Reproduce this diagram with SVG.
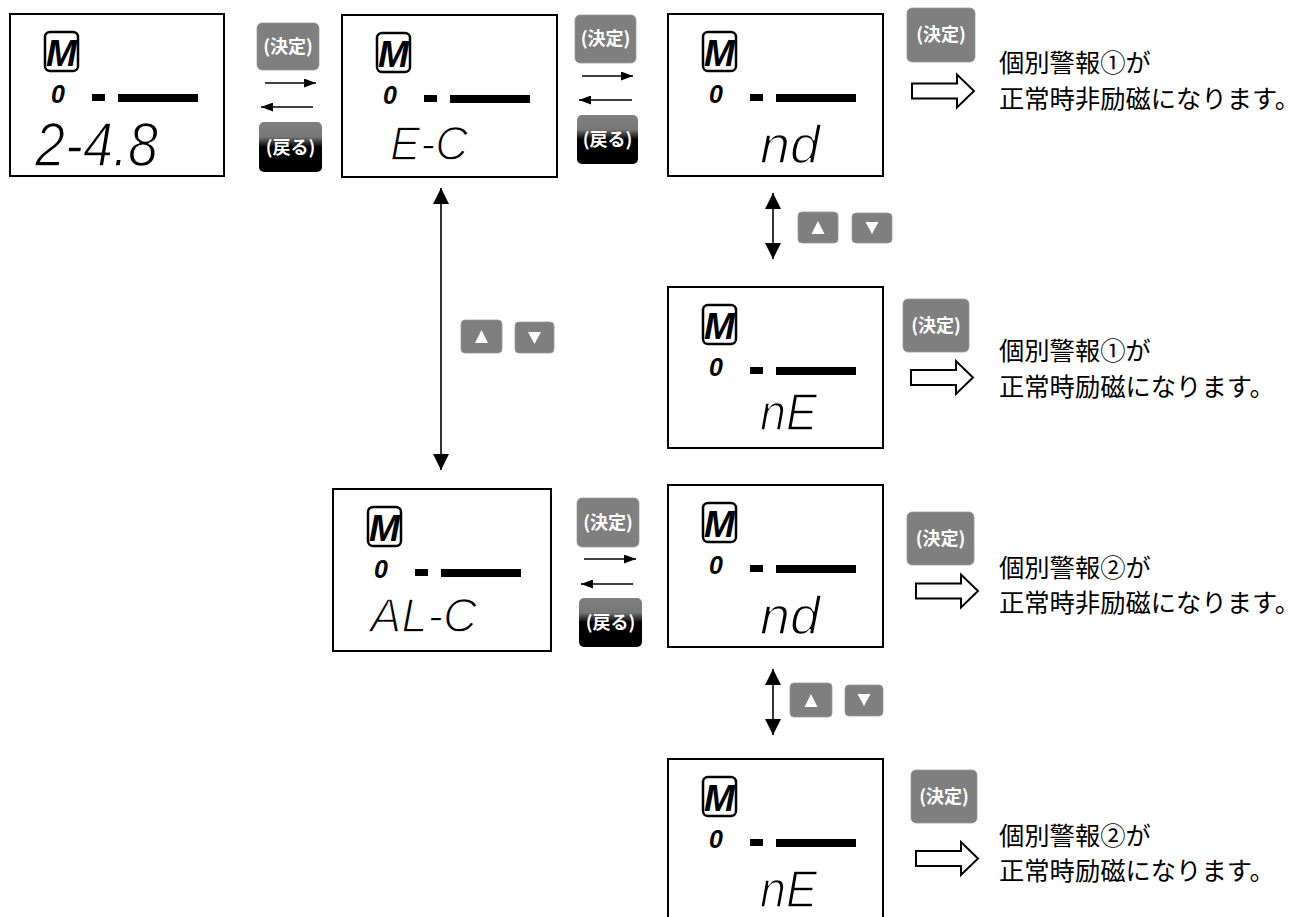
<svg xmlns="http://www.w3.org/2000/svg" width="1299" height="917" viewBox="0 0 1299 917">
<style>
.box{fill:#fff;stroke:#000;stroke-width:2}
.micon{fill:#fff;stroke:#000;stroke-width:2.5}
.mtxt{font-family:"Liberation Sans",Arial,sans-serif;font-weight:bold;font-style:italic;font-size:37px;fill:#000;text-anchor:middle}
.zero{font-family:"Liberation Sans",Arial,sans-serif;font-weight:bold;font-style:italic;font-size:25px;fill:#000}
.seg{font-family:"Liberation Sans",Arial,sans-serif;font-style:italic;fill:#000;stroke:#fff;stroke-width:1.5}
.btn{fill:#7f7f7f;stroke:#9a9a9a;stroke-width:0.8}
.btxt{font-family:"Noto Sans CJK JP","Noto Sans CJK SC",sans-serif;font-weight:bold;font-size:18px;fill:#fff;text-anchor:middle}
.jp{font-family:"Noto Sans CJK JP","Noto Sans CJK SC",sans-serif;font-size:25.3px;fill:#000}
.thin{stroke:#000;stroke-width:1.6;fill:none}
.hollow{fill:#fff;stroke:#000;stroke-width:2;stroke-linejoin:miter}
.tri{fill:#fff}
</style>
<defs>
<linearGradient id="back" x1="0" y1="0" x2="0" y2="1">
<stop offset="0" stop-color="#808080"/>
<stop offset="0.3" stop-color="#777"/>
<stop offset="0.5" stop-color="#000"/>
<stop offset="1" stop-color="#000"/>
</linearGradient>
<marker id="ah" viewBox="0 0 12 9" refX="12" refY="4.5" markerWidth="12" markerHeight="9" markerUnits="userSpaceOnUse" orient="auto-start-reverse">
<path d="M0,0 L12,4.5 L0,9 Z" fill="#000"/>
</marker>
<marker id="vh" viewBox="0 0 16 16" refX="16" refY="8" markerWidth="16" markerHeight="16" markerUnits="userSpaceOnUse" orient="auto-start-reverse">
<path d="M0,0 L16,8 L0,16 Z" fill="#000"/>
</marker>
</defs>

<!-- Displays -->
<g id="disp1" transform="translate(10,14)">
<rect class="box" x="0" y="0" width="214" height="162"/>
<rect class="micon" x="35" y="18" width="33" height="39" rx="5"/>
<text class="mtxt" x="51.5" y="52">M</text>
<text class="zero" x="41" y="89">0</text>
<rect x="82" y="80" width="13" height="7"/>
<rect x="108" y="80" width="80" height="8"/>
<text class="seg" x="25" y="152" font-size="63" textLength="123" lengthAdjust="spacingAndGlyphs">2-4.8</text>
</g>

<g id="disp2" transform="translate(342,15)">
<rect class="box" x="0" y="0" width="215" height="162"/>
<rect class="micon" x="35" y="18" width="33" height="39" rx="5"/>
<text class="mtxt" x="51.5" y="52">M</text>
<text class="zero" x="41" y="89">0</text>
<rect x="82" y="80" width="13" height="7"/>
<rect x="108" y="80" width="80" height="8"/>
<text class="seg" x="48" y="145" font-size="49" textLength="78" lengthAdjust="spacingAndGlyphs">E-C</text>
</g>

<g id="disp3" transform="translate(668,14)">
<rect class="box" x="0" y="0" width="215" height="162"/>
<rect class="micon" x="35" y="18" width="33" height="39" rx="5"/>
<text class="mtxt" x="51.5" y="52">M</text>
<text class="zero" x="41" y="89">0</text>
<rect x="82" y="80" width="13" height="7"/>
<rect x="108" y="80" width="80" height="8"/>
<text class="seg" x="92" y="149" font-size="54" textLength="60" lengthAdjust="spacingAndGlyphs">nd</text>
</g>

<g id="disp4" transform="translate(668,287)">
<rect class="box" x="0" y="0" width="215" height="161"/>
<rect class="micon" x="35" y="18" width="33" height="39" rx="5"/>
<text class="mtxt" x="51.5" y="52">M</text>
<text class="zero" x="41" y="89">0</text>
<rect x="82" y="80" width="13" height="7"/>
<rect x="108" y="80" width="80" height="8"/>
<text class="seg" x="92" y="143" font-size="52" textLength="57" lengthAdjust="spacingAndGlyphs">nE</text>
</g>

<g id="disp5" transform="translate(333,489)">
<rect class="box" x="0" y="0" width="218" height="162"/>
<rect class="micon" x="35" y="18" width="33" height="39" rx="5"/>
<text class="mtxt" x="51.5" y="52">M</text>
<text class="zero" x="41" y="89">0</text>
<rect x="82" y="80" width="13" height="7"/>
<rect x="108" y="80" width="80" height="8"/>
<text class="seg" x="37" y="143" font-size="48" textLength="107" lengthAdjust="spacingAndGlyphs">AL-C</text>
</g>

<g id="disp6" transform="translate(668,485)">
<rect class="box" x="0" y="0" width="215" height="162"/>
<rect class="micon" x="35" y="18" width="33" height="39" rx="5"/>
<text class="mtxt" x="51.5" y="52">M</text>
<text class="zero" x="41" y="89">0</text>
<rect x="82" y="80" width="13" height="7"/>
<rect x="108" y="80" width="80" height="8"/>
<text class="seg" x="92" y="149" font-size="54" textLength="60" lengthAdjust="spacingAndGlyphs">nd</text>
</g>

<g id="disp7" transform="translate(668,759)">
<rect class="box" x="0" y="0" width="215" height="175"/>
<rect class="micon" x="35" y="18" width="33" height="39" rx="5"/>
<text class="mtxt" x="51.5" y="52">M</text>
<text class="zero" x="41" y="89">0</text>
<rect x="82" y="80" width="13" height="7"/>
<rect x="108" y="80" width="80" height="8"/>
<text class="seg" x="92" y="148" font-size="52" textLength="57" lengthAdjust="spacingAndGlyphs">nE</text>
</g>

<!-- Buttons -->
<g id="btn-kettei1"><rect class="btn" x="257" y="23" width="62" height="47" rx="5"/><text class="btxt" x="288" y="53">(決定)</text></g>
<g id="btn-modoru1"><rect x="259" y="122" width="63" height="50" rx="5" fill="url(#back)"/><text class="btxt" x="290.5" y="154">(戻る)</text></g>
<g id="btn-kettei2"><rect class="btn" x="575" y="15" width="61" height="48" rx="5"/><text class="btxt" x="605.5" y="45">(決定)</text></g>
<g id="btn-modoru2"><rect x="577" y="115" width="61" height="49" rx="5" fill="url(#back)"/><text class="btxt" x="607.5" y="146">(戻る)</text></g>
<g id="btn-kettei5"><rect class="btn" x="577" y="498" width="62" height="49" rx="5"/><text class="btxt" x="608" y="529">(決定)</text></g>
<g id="btn-modoru5"><rect x="579" y="598" width="63" height="49" rx="5" fill="url(#back)"/><text class="btxt" x="610.5" y="629">(戻る)</text></g>
<g id="btn-kettei3"><rect class="btn" x="907" y="8" width="68" height="54" rx="5"/><text class="btxt" x="941" y="41">(決定)</text></g>
<g id="btn-kettei4"><rect class="btn" x="903" y="299" width="66" height="53" rx="5"/><text class="btxt" x="936" y="332">(決定)</text></g>
<g id="btn-kettei6"><rect class="btn" x="907" y="512" width="67" height="53" rx="5"/><text class="btxt" x="940.5" y="545">(決定)</text></g>
<g id="btn-kettei7"><rect class="btn" x="911" y="770" width="66" height="53" rx="5"/><text class="btxt" x="944" y="803">(決定)</text></g>

<g id="updown1">
<rect class="btn" x="461" y="320" width="41" height="33" rx="4"/><path class="tri" d="M481.5,330 L488,343 L475,343 Z"/>
<rect class="btn" x="515" y="322" width="39" height="31" rx="4"/><path class="tri" d="M528,332 L541,332 L534.5,344 Z"/>
</g>
<g id="updown2">
<rect class="btn" x="798" y="212" width="40" height="31" rx="4"/><path class="tri" d="M818,221 L824.5,234 L811.5,234 Z"/>
<rect class="btn" x="852" y="213" width="40" height="30" rx="4"/><path class="tri" d="M865.5,222 L878.5,222 L872,234 Z"/>
</g>
<g id="updown3">
<rect class="btn" x="790" y="683" width="42" height="34" rx="4"/><path class="tri" d="M811,694 L817.5,707 L804.5,707 Z"/>
<rect class="btn" x="845" y="685" width="38" height="31" rx="4"/><path class="tri" d="M857.5,694 L870.5,694 L864,706 Z"/>
</g>

<!-- Result texts -->
<g id="note1"><text class="jp" x="999" y="72">個別警報①が</text><text class="jp" x="999" y="108">正常時非励磁になります。</text></g>
<g id="note2"><text class="jp" x="999" y="360">個別警報①が</text><text class="jp" x="999" y="396">正常時励磁になります。</text></g>
<g id="note3"><text class="jp" x="999" y="577">個別警報②が</text><text class="jp" x="999" y="612">正常時非励磁になります。</text></g>
<g id="note4"><text class="jp" x="999" y="845">個別警報②が</text><text class="jp" x="999" y="880">正常時励磁になります。</text></g>

<!-- Connectors -->
<g id="connectors">
<line class="thin" x1="265" y1="83" x2="316" y2="83" marker-end="url(#ah)"/>
<line class="thin" x1="313" y1="107" x2="261" y2="107" marker-end="url(#ah)"/>
<line class="thin" x1="582" y1="76" x2="633" y2="76" marker-end="url(#ah)"/>
<line class="thin" x1="632" y1="100" x2="579" y2="100" marker-end="url(#ah)"/>
<line class="thin" x1="584" y1="559" x2="636" y2="559" marker-end="url(#ah)"/>
<line class="thin" x1="633" y1="584" x2="581" y2="584" marker-end="url(#ah)"/>
<line class="thin" x1="441" y1="188" x2="441" y2="470" stroke-width="2" marker-start="url(#vh)" marker-end="url(#vh)"/>
<line class="thin" x1="773" y1="193" x2="773" y2="259" stroke-width="2" marker-start="url(#vh)" marker-end="url(#vh)"/>
<line class="thin" x1="773" y1="669" x2="773" y2="735" stroke-width="2" marker-start="url(#vh)" marker-end="url(#vh)"/>
<path class="hollow" d="M912,83.5 L957,83.5 L957,74.5 L974,91 L957,107.5 L957,98.5 L912,98.5 Z"/>
<path class="hollow" d="M911,370 L956,370 L956,361 L973,377.5 L956,394 L956,385 L911,385 Z"/>
<path class="hollow" d="M916,583.5 L961,583.5 L961,574.5 L978,591 L961,607.5 L961,598.5 L916,598.5 Z"/>
<path class="hollow" d="M916,851 L961,851 L961,842 L978,858.5 L961,875 L961,866 L916,866 Z"/>
</g>
</svg>
